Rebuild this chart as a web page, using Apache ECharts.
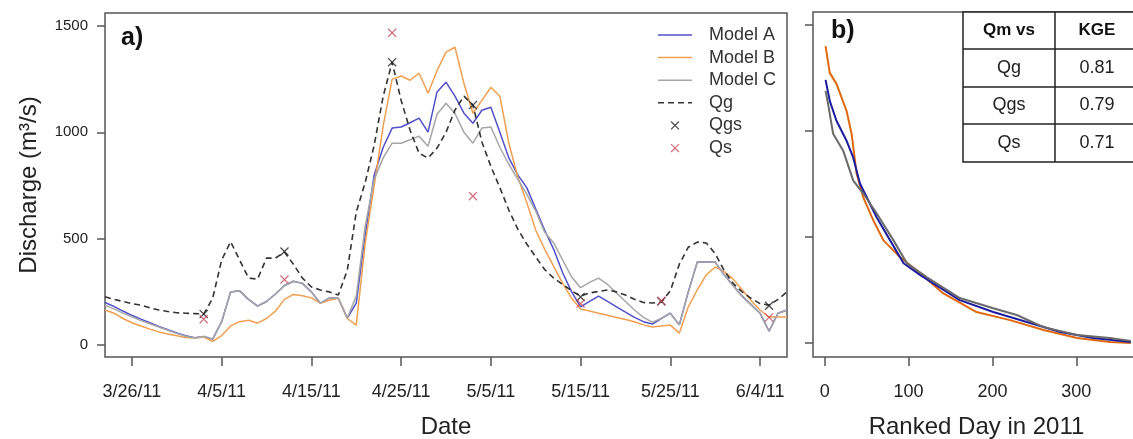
<!DOCTYPE html>
<html><head><meta charset="utf-8">
<script src="https://cdn.jsdelivr.net/npm/echarts@6/dist/echarts.min.js"></script>
<style>html,body{margin:0;padding:0;background:#fff}#c{width:1133px;height:439px}</style>
</head><body><div id="c"></div>
<script>
// ---------- categories ----------
const dates = [];
for (let i = 0; i < 77; i++) {
  const d = new Date(Date.UTC(2011, 2, 23 + i));
  dates.push((d.getUTCMonth() + 1) + '/' + d.getUTCDate() + '/11');
}
const dateTicks = ['3/26/11','4/5/11','4/15/11','4/25/11','5/5/11','5/15/11','5/25/11','6/4/11'];
const qTicks = [0, 500, 1000, 1500];
const rankTicks = [0, 100, 200, 300];

// ---------- panel a: daily discharge (m3/s), 3/23/11 .. 6/7/11 ----------
const modelA = [200,182,160,140,122,105,88,72,57,44,35,40,28,
  110,250,255,215,183,205,240,280,300,290,250,197,221,
  220,127,197,520,800,930,1020,1025,1045,1067,1001,
  1190,1236,1170,1090,1043,1104,1118,1000,880,800,740,
  640,540,450,340,250,180,205,230,205,180,155,130,110,
  99,125,150,95,250,390,390,390,330,280,230,190,150,65,150,165];
const modelB = [165,150,125,105,90,75,62,52,44,36,33,38,18,
  45,90,110,117,103,125,160,215,238,232,222,197,211,
  220,125,94,480,750,1030,1250,1265,1245,1278,1184,
  1290,1377,1400,1230,1090,1150,1212,1170,950,790,670,
  540,450,370,290,220,170,160,150,140,130,120,110,95,
  85,90,94,56,180,260,330,367,345,310,260,210,165,132,132,132];
const modelC = [188,170,150,133,115,100,85,70,55,42,33,40,28,
  110,250,255,215,183,205,240,280,300,290,250,197,221,
  220,127,230,560,780,880,949,949,965,982,935,
  1085,1137,1090,1000,949,1020,1025,930,850,780,710,
  630,530,480,400,320,270,295,315,285,245,205,165,130,
  108,125,150,95,250,390,390,390,330,280,230,190,150,65,150,165];
const qg = [227,215,205,195,188,175,165,158,152,150,148,146,220,
  400,486,400,315,310,409,409,437,380,315,273,259,250,
  235,352,625,765,940,1170,1330,1150,1010,902,879,
  926,1000,1105,1170,1128,955,840,740,635,545,475,
  414,355,315,285,255,230,245,252,259,250,235,215,200,
  198,202,255,380,460,484,480,430,350,290,250,220,195,188,215,250];
const sampleDays = ['4/3/11','4/12/11','4/24/11','5/3/11','5/15/11','5/24/11','6/5/11'];
const qgs = [146,440,1330,1128,226,205,185];
const qs  = [122,308,1468,700,195,208,130];

// ---------- panel b: flow duration curves ----------
const rankB = [1,6,14,26,32,38,46,58,70,90,114,141,181,221,261,301,340,365];
const fdcB  = [1400,1274,1222,1095,987,799,686,578,484,404,329,235,146,108,61,24,5,0];
const rankA = [1,6,14,26,34,42,62,78,94,114,161,201,241,281,320,365];
const fdcA  = [1241,1142,1048,954,874,752,592,484,376,320,202,146,99,52,24,5];
const rankC = [1,4,10,22,34,46,62,82,98,122,161,201,229,261,301,340,365];
const fdcC  = [1189,1128,987,907,766,705,611,484,376,310,212,164,132,75,38,24,10];

// ---------- KGE table ----------
const tableHead = ['Qm vs', 'KGE'];
const tableRows = ['Qg', 'Qgs', 'Qs'];
const kge = ['0.81', '0.79', '0.71'];

const FONT = '"Liberation Sans", Arial, sans-serif';
const xPath = 'path://M1,0 L5,4 L9,0 L10,1 L6,5 L10,9 L9,10 L5,6 L1,10 L0,9 L4,5 L0,1 Z';
const xPathLegend = 'path://M-10,-3 M20,13 M1,0 L5,4 L9,0 L10,1 L6,5 L10,9 L9,10 L5,6 L1,10 L0,9 L4,5 L0,1 Z';
const lineIcon = 'path://M0,-6.25 M34,7.75 M0,0 L34,0 L34,1.5 L0,1.5 Z';
const dashIcon = 'path://M0,-6.2 M34,7.8 M0,0 L6,0 L6,1.6 L0,1.6 Z M10,0 L16,0 L16,1.6 L10,1.6 Z M20,0 L26,0 L26,1.6 L20,1.6 Z M30,0 L34,0 L34,1.6 L30,1.6 Z';
const pairs = (xs, ys) => xs.map((x, i) => [x, ys[i]]);

const frameCol = '#555';
const tickStyle = { color: frameCol, width: 1.5 };

// table graphics
const tX = [963, 1055, 1140];
const tY = [12, 49, 87, 124, 162];
const graphic = [];
graphic.push({ type: 'rect', shape: { x: tX[0], y: tY[0], width: tX[2] - tX[0], height: tY[4] - tY[0] },
  style: { fill: '#fff', stroke: '#222', lineWidth: 1.5 }, z: 100 });
tY.slice(1, 4).forEach(y => graphic.push({ type: 'line', shape: { x1: tX[0], y1: y, x2: tX[2], y2: y }, style: { stroke: '#222', lineWidth: 1.5 }, z: 101 }));
graphic.push({ type: 'line', shape: { x1: tX[1], y1: tY[0], x2: tX[1], y2: tY[4] }, style: { stroke: '#222', lineWidth: 1.5 }, z: 101 });
const cx = [(tX[0] + tX[1]) / 2, (tX[1] + 1133) / 2 + 3];
tableHead.forEach((t, j) => graphic.push({ type: 'text', x: cx[j], y: (tY[0] + tY[1]) / 2, z: 102,
  style: { text: t, font: 'bold 17px ' + FONT, fill: '#111', align: 'center', verticalAlign: 'middle' } }));
tableRows.forEach((t, i) => {
  const y = (tY[i + 1] + tY[i + 2]) / 2;
  graphic.push({ type: 'text', x: cx[0], y, z: 102, style: { text: t, font: '18px ' + FONT, fill: '#222', align: 'center', verticalAlign: 'middle' } });
  graphic.push({ type: 'text', x: cx[1], y, z: 102, style: { text: kge[i], font: '18px ' + FONT, fill: '#222', align: 'center', verticalAlign: 'middle' } });
});
graphic.push({ type: 'text', x: 121, y: 26, z: 50, style: { text: 'a)', font: 'bold 25px ' + FONT, fill: '#111' } });
graphic.push({ type: 'text', x: 831, y: 19, z: 50, style: { text: 'b)', font: 'bold 25px ' + FONT, fill: '#111' } });

const chart = echarts.init(document.getElementById('c'), null, { renderer: 'canvas' });
chart.setOption({
  animation: false,
  backgroundColor: '#fff',
  textStyle: { fontFamily: FONT },
  grid: [
    { left: 105, top: 13, width: 682, height: 344, show: true, borderColor: frameCol, borderWidth: 1.5, outerBoundsMode: 'none', containLabel: false },
    { left: 813, top: 12, width: 327, height: 345, show: true, borderColor: frameCol, borderWidth: 1.5, outerBoundsMode: 'none', containLabel: false }
  ],
  xAxis: [
    { type: 'category', gridIndex: 0, data: dates, boundaryGap: false,
      axisLine: { show: false, onZero: false }, splitLine: { show: false },
      axisTick: { show: true, length: 9, interval: (i, v) => dateTicks.includes(v), lineStyle: tickStyle },
      axisLabel: { interval: (i, v) => dateTicks.includes(v), margin: 26, fontSize: 18, color: '#222', fontFamily: FONT },
      name: 'Date', nameLocation: 'middle', nameGap: 58, nameTextStyle: { fontSize: 24, color: '#222', fontFamily: FONT } },
    { type: 'value', gridIndex: 1, min: -14, max: 376,
      axisLine: { show: false, onZero: false }, splitLine: { show: false },
      axisTick: { show: true, length: 9, customValues: rankTicks, lineStyle: tickStyle },
      axisLabel: { customValues: rankTicks, margin: 26, fontSize: 18, color: '#222', fontFamily: FONT },
      name: 'Ranked Day in 2011', nameLocation: 'middle', nameGap: 58, nameTextStyle: { fontSize: 24, color: '#222', fontFamily: FONT } }
  ],
  yAxis: [
    { type: 'value', gridIndex: 0, min: -56, max: 1561,
      axisLine: { show: false, onZero: false }, splitLine: { show: false },
      axisTick: { show: true, length: 8, customValues: qTicks, lineStyle: tickStyle },
      axisLabel: { customValues: qTicks, formatter: v => String(v), margin: 17, fontSize: 15, color: '#222', fontFamily: FONT },
      name: 'Discharge (m³/s)', nameLocation: 'middle', nameGap: 64, nameTextStyle: { fontSize: 24, color: '#222', fontFamily: FONT } },
    { type: 'value', gridIndex: 1, min: -66, max: 1561,
      axisLine: { show: false, onZero: false }, splitLine: { show: false },
      axisTick: { show: true, length: 8, customValues: qTicks, lineStyle: tickStyle },
      axisLabel: { show: false } }
  ],
  legend: {
    left: 653, top: 21, orient: 'vertical', itemWidth: 34, itemHeight: 14, itemGap: 4.6,
    textStyle: { fontSize: 18, color: '#333', fontFamily: FONT, padding: [0, 0, 0, 12] },
    data: [{ name: 'Model A', icon: lineIcon }, { name: 'Model B', icon: lineIcon }, { name: 'Model C', icon: lineIcon },
           { name: 'Qg', icon: dashIcon }, { name: 'Qgs', icon: xPathLegend }, { name: 'Qs', icon: xPathLegend }]
  },
  graphic,
  series: [
    { name: 'Model A', type: 'line', xAxisIndex: 0, yAxisIndex: 0, data: modelA, symbol: 'none', color: '#5050c8', lineStyle: { width: 1.5, color: '#5050c8' } },
    { name: 'Model B', type: 'line', xAxisIndex: 0, yAxisIndex: 0, data: modelB, symbol: 'none', color: '#f0a050', lineStyle: { width: 1.5, color: '#f0a050' } },
    { name: 'Model C', type: 'line', xAxisIndex: 0, yAxisIndex: 0, data: modelC, symbol: 'none', color: '#a6a6a6', lineStyle: { width: 1.5, color: '#a6a6a6' } },
    { name: 'Qg', type: 'line', xAxisIndex: 0, yAxisIndex: 0, data: qg, symbol: 'none', color: '#333', lineStyle: { width: 1.6, color: '#333', type: [6, 4] } },
    { name: 'Qgs', type: 'scatter', xAxisIndex: 0, yAxisIndex: 0, data: pairs(sampleDays, qgs), symbol: xPath, symbolSize: 9, color: '#222', z: 5 },
    { name: 'Qs', type: 'scatter', xAxisIndex: 0, yAxisIndex: 0, data: pairs(sampleDays, qs), symbol: xPath, symbolSize: 9, color: '#c8485a', z: 5 },
    { name: 'FDC B', type: 'line', xAxisIndex: 1, yAxisIndex: 1, data: pairs(rankB, fdcB), symbol: 'none', color: '#e06a10', lineStyle: { width: 2, color: '#e06a10' } },
    { name: 'FDC A', type: 'line', xAxisIndex: 1, yAxisIndex: 1, data: pairs(rankA, fdcA), symbol: 'none', color: '#1c1ca0', lineStyle: { width: 2, color: '#1c1ca0' } },
    { name: 'FDC C', type: 'line', xAxisIndex: 1, yAxisIndex: 1, data: pairs(rankC, fdcC), symbol: 'none', color: '#6a6a6a', lineStyle: { width: 2, color: '#6a6a6a' } }
  ]
});
</script></body></html>
